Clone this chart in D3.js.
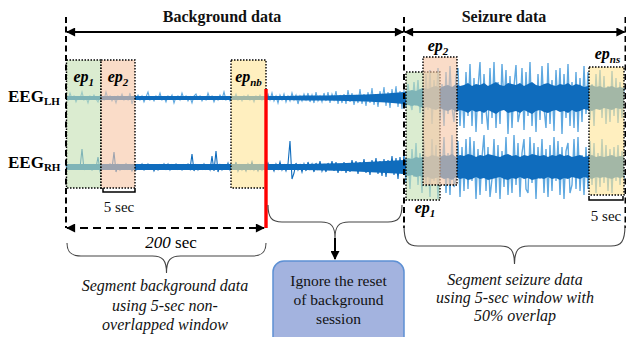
<!DOCTYPE html>
<html>
<head>
<meta charset="utf-8">
<script src="https://cdn.jsdelivr.net/npm/d3@7"></script>
<style>
  body { margin: 0; background: #fff; }
  svg { display: block; }
</style>
</head>
<body>
<div id="chart"></div>
<script>
// EEG samples (arbitrary µV units), one sample every 2 s of diagram time.
// Background starts at t=0, seizure at t=338 (the drawing is not to scale)
var lhBackground = [
  1,-2,5,-1,2,-4,1,-1,6,-2,  1,-5,2,-1,3,-1,-4,2,1,-2,  6,-1,2,-3,1,-5,2,-1,4,-2,
  1,-2,5,-6,1,-1,3,-2,2,-4,  1,6,-2,1,-3,2,-1,5,-2,1,  -4,2,-1,3,-5,1,2,-2,5,-1,
  2,-3,1,-5,2,4,-1,2,-3,1,  -2,5,-1,2,-4,1,-2,3,-1,6,  -2,1,-3,2,-1,4,-2,1,-3,2,
  -1,3,-2,1,-4,2,-1,3,-2,1,  -3,4,-2,5,-3,2,-5,3,-2,4,  -4,2,-3,5,-2,3,-6,2,-3,4,
  -2,5,-4,3,-5,6,-3,2,-4,5,  -3,6,-5,4,-2,7,-6,3,-5,4,  -6,8,-4,5,-7,3,-5,9,-6,4,
  -8,6,-5,10,-7,4,-9,7,-3,11,  -8,6,-10,9,-5,12,-9,7,-11,8];
var lhSeizure = [
  6,-10,14,-4,-12,16,-8,18,-15,10,
  -20,24,-12,28,-26,18,-8,30,-22,14,-28,26,-16,32,-10,-24,22,30,-28,12,-30,26,
  -18,34,-28,20,-34,10,36,-26,24,-12,-32,30,-20,36,-30,16,-26,34,-8,28,-36,22,-30,12,33,-24,-14,30,-32,26,
  -18,36,-28,14,-34,24,-22,32,-10,-30,35,-26,18,-33,28,-12,30,-36,24,-20,34,-28,16,-30,26,-34,20,-24,32,-16,
  26,-22,14,-28,24,-10,28,-20,22,-26,12,-24,27,-18,20,-25,16,-20,10];
var rhBackground = [
  1,-2,2,-1,1,-2,2,-1,18,-3,  2,-2,1,-3,2,-1,10,-4,1,-2,  2,-1,3,-2,15,-5,2,-3,1,-2,
  3,-2,2,-4,1,-3,2,-2,3,-3,  -2,3,-1,2,-4,1,-3,2,-2,3,  -2,3,-3,2,-1,3,-2,1,-3,2,
  -1,3,-2,13,-4,2,-3,1,-2,3,  -2,1,-3,11,-4,16,-5,2,-3,1,  -2,4,-3,1,-2,5,-4,2,-3,1,
  -4,3,-2,5,-3,1,-4,2,-3,2,  -3,4,-2,1,-4,3,-2,5,-3,2,  -4,3,26,-12,-6,4,-3,2,-5,3,
  -4,5,-2,3,-5,4,-3,6,-4,2,  -5,4,-3,6,-4,5,-6,3,-4,5,  -6,4,-5,7,-3,6,-7,5,-4,8,
  -6,5,-8,7,-4,9,-7,6,-9,8,  -10,7,-6,11,-8,9,-12,10,-7,12];
var rhSeizure = [
  12,-16,8,-22,18,-10,24,-18,14,-26,
  26,-20,10,-30,28,-14,22,-32,18,-8,30,-26,14,-28,32,-20,-12,26,-30,20,-24,28,
  -22,30,-14,26,-32,18,-28,10,32,-24,20,-30,-12,28,-26,22,-32,16,-20,30,-28,12,-26,32,-18,24,-30,14,28,-22,
  -26,30,-16,24,-32,20,-12,28,-26,18,-30,22,-24,30,-14,26,-28,20,-32,16,24,-26,-18,28,-22,30,-24,12,-28,20,
  -22,26,-18,24,-26,14,-20,28,-16,22,-24,18,-26,20,-14,22,-18,16,-12];
// half-width of the dense core of each trace: background every 20 s, seizure every 4 s
var lhCoreBackground = [2,2,2,2,2,2,2,2,2,2,2,2,2.5,2.5,3,3.5,4.5];
var lhCoreSeizure = [6,7,8,7,9,10,9,11,12,10, 12,13,11,14,12,13,15,12,14,13, 15,12,14,16,13,12,15,14,13,15,
  12,14,16,13,12,14,15,13,12,14, 13,15,12,14,13,11,12,13,11,12, 10,11,12,10,11,10];
var rhCoreBackground = [3,3,3,3,3,3,3,3,3,3,3,3,3,3.5,4,5,6];
var rhCoreSeizure = [7,9,8,10,9,11,10,12,11,10, 12,11,13,10,12,11,13,12,10,12, 11,13,12,11,10,12,13,11,12,10,
  12,11,13,12,11,12,10,12,11,13, 11,12,10,11,12,10,11,12,10,11, 10,11,12,10,11,10];

var bgEpochs = [
  { name: '1',  start: 0.5, end: 35 },
  { name: '2',  start: 35,  end: 69 },
  { name: 'nb', start: 165, end: 200 }
];
var szEpochs = [
  { name: '1',  start: 340, end: 374 },
  { name: '2',  start: 357, end: 391 },
  { name: 'ns', start: 523, end: 558 }
];
var bgEnd = 200, szStart = 338, szEnd = 559;

var W = 626, H = 337;
var serif = '"Liberation Serif", "Times New Roman", serif';
var darkBlue = '#0f6cbd', lightBlue = '#5ea8e0';
var epColor = { '1': '#c5e0b3', '2': '#f7c6a6', 'nb': '#ffe597', 'ns': '#ffe597' };
var szBoxY = { '1': [72, 200], '2': [57, 185], 'ns': [67, 195] };

var svg = d3.select('#chart').append('svg')
  .attr('width', W).attr('height', H)
  .attr('viewBox', '0 0 ' + W + ' ' + H);

svg.append('defs').append('marker')
  .attr('id', 'arr')
  .attr('viewBox', '0 0 10 10')
  .attr('refX', 9).attr('refY', 5)
  .attr('markerUnits', 'userSpaceOnUse')
  .attr('markerWidth', 11).attr('markerHeight', 9)
  .attr('orient', 'auto-start-reverse')
  .append('path').attr('d', 'M0,0 L10,5 L0,10 z').attr('fill', '#000');

var x = d3.scaleLinear().domain([0, 560]).range([66, 626]);
var yLH = d3.scaleLinear().domain([-40, 40]).range([138, 58]);
var yRH = d3.scaleLinear().domain([-40, 40]).range([207, 127]);

function toPoints(arr, t0, step) {
  return arr.map(function (v, i) { return { t: t0 + i * step, v: v }; });
}

function drawTrace(y, bg, sz, coreBg, coreSz, bgColor) {
  var g = svg.append('g');
  var line = d3.line()
    .x(function (d) { return x(d.t); })
    .y(function (d) { return y(d.v); });
  var area = d3.area()
    .x(function (d) { return x(d.t); })
    .y0(function (d) { return y(-d.v); })
    .y1(function (d) { return y(d.v); });

  var core = toPoints(coreBg, 0, 20).concat(toPoints(coreSz, szStart, 4));
  g.append('path')
    .datum(toPoints(sz, szStart, 2))
    .attr('d', line)
    .attr('fill', 'none')
    .attr('stroke', lightBlue)
    .attr('stroke-width', 1.4);
  g.append('path')
    .datum(toPoints(bg, 0, 2).concat([{ t: szStart, v: sz[0] }]))
    .attr('d', line)
    .attr('fill', 'none')
    .attr('stroke', bgColor)
    .attr('stroke-width', 1.1);
  g.append('path')
    .datum(core)
    .attr('d', area)
    .attr('fill', darkBlue);
}

drawTrace(yLH, lhBackground, lhSeizure, lhCoreBackground, lhCoreSeizure, lightBlue);
drawTrace(yRH, rhBackground, rhSeizure, rhCoreBackground, rhCoreSeizure, darkBlue);

// epoch windows
function drawBox(ep, y0, y1) {
  svg.append('rect')
    .attr('x', x(ep.start)).attr('y', y0)
    .attr('width', x(ep.end) - x(ep.start)).attr('height', y1 - y0)
    .attr('fill', epColor[ep.name]).attr('fill-opacity', 0.62)
    .attr('stroke', '#000').attr('stroke-width', 1.4)
    .attr('stroke-dasharray', '1.5,1.5');
}
bgEpochs.forEach(function (ep) { drawBox(ep, 60, 188); });
szEpochs.forEach(function (ep) { drawBox(ep, szBoxY[ep.name][0], szBoxY[ep.name][1]); });

function epLabel(ep, cx, baseY) {
  var t = svg.append('text')
    .attr('x', cx).attr('y', baseY)
    .attr('text-anchor', 'middle')
    .attr('font-family', serif)
    .attr('font-weight', 'bold').attr('font-style', 'italic')
    .attr('font-size', 16);
  t.append('tspan').text('ep');
  t.append('tspan').attr('font-size', 11).attr('dy', 4).text(ep.name);
}
bgEpochs.forEach(function (ep) { epLabel(ep, (x(ep.start) + x(ep.end)) / 2, 82); });
epLabel(szEpochs[0], (x(szEpochs[0].start) + x(szEpochs[0].end)) / 2 + 2, 213);
epLabel(szEpochs[1], (x(szEpochs[1].start) + x(szEpochs[1].end)) / 2 - 2, 51);
epLabel(szEpochs[2], (x(szEpochs[2].start) + x(szEpochs[2].end)) / 2 + 1, 59);

// end of the background part that is used
svg.append('rect')
  .attr('x', x(bgEnd) - 1.7).attr('y', 89)
  .attr('width', 3.4).attr('height', 139)
  .attr('fill', '#ff0000');

// section borders
[0, szStart, szEnd + 0.5].forEach(function (t) {
  svg.append('line')
    .attr('x1', x(t)).attr('x2', x(t))
    .attr('y1', 17).attr('y2', 228)
    .attr('stroke', '#000').attr('stroke-width', 2)
    .attr('stroke-dasharray', '6,3.5');
});

function arrow(x1, x2, y, dashed) {
  svg.append('line')
    .attr('x1', x1).attr('x2', x2).attr('y1', y).attr('y2', y)
    .attr('stroke', '#000').attr('stroke-width', 2)
    .attr('stroke-dasharray', dashed ? '8,5' : null)
    .attr('marker-start', 'url(#arr)').attr('marker-end', 'url(#arr)');
}
arrow(x(0) + 1, x(szStart) - 1, 32, false);
arrow(x(szStart) + 1, x(szEnd) - 0.5, 32, false);
arrow(x(0) + 1, x(bgEnd) - 2, 228, true);

function text(str, cx, y, opts) {
  opts = opts || {};
  return svg.append('text')
    .attr('x', cx).attr('y', y)
    .attr('text-anchor', 'middle')
    .attr('font-family', serif)
    .attr('font-size', opts.size || 16)
    .attr('font-weight', opts.bold ? 'bold' : null)
    .attr('font-style', opts.italic ? 'italic' : null)
    .attr('fill', '#111')
    .text(str);
}
text('Background data', 222, 22, { bold: true });
text('Seizure data', 504, 22, { bold: true });

function eegLabel(sub, y) {
  var t = svg.append('text')
    .attr('x', 8).attr('y', y)
    .attr('font-family', serif).attr('font-weight', 'bold')
    .attr('font-size', 17);
  t.append('tspan').text('EEG');
  t.append('tspan').attr('font-size', 11).attr('dy', 3).text(sub);
}
eegLabel('LH', 102);
eegLabel('RH', 168);

// 5 sec brackets
function bracket(x1, x2, y, ty) {
  svg.append('path')
    .attr('d', 'M' + x1 + ',' + (y - 4) + 'V' + y + 'H' + x2 + 'V' + (y - 4))
    .attr('fill', 'none').attr('stroke', '#000').attr('stroke-width', 1.5);
  text('5 sec', (x1 + x2) / 2, ty, { size: 15 });
}
bracket(x(37), x(69), 192, 212);
bracket(x(523), x(557), 200, 221);

// 200 sec
var t200 = svg.append('text')
  .attr('x', 171).attr('y', 248)
  .attr('text-anchor', 'middle')
  .attr('font-family', serif).attr('font-size', 17);
t200.append('tspan').attr('font-style', 'italic').text('200');
t200.append('tspan').text(' sec');

// curly braces
function brace(x1, x2, y0, yh, tip) {
  var xm = (x1 + x2) / 2, r = 14;
  var d = 'M' + x1 + ',' + y0 +
    'C' + x1 + ',' + (yh - 4) + ' ' + (x1 + 4) + ',' + yh + ' ' + (x1 + r) + ',' + yh +
    'H' + (xm - r) +
    'C' + (xm - 4) + ',' + yh + ' ' + xm + ',' + (yh + 4) + ' ' + xm + ',' + tip +
    'C' + xm + ',' + (yh + 4) + ' ' + (xm + 4) + ',' + yh + ' ' + (xm + r) + ',' + yh +
    'H' + (x2 - r) +
    'C' + (x2 - 4) + ',' + yh + ' ' + x2 + ',' + (yh - 4) + ' ' + x2 + ',' + y0;
  svg.append('path').attr('d', d)
    .attr('fill', 'none').attr('stroke', '#444').attr('stroke-width', 1.1);
  return xm;
}
brace(x(0) + 1, x(bgEnd), 243, 256, 273);
var midX = brace(x(bgEnd) + 2, x(szStart) - 2, 205, 222, 238);
brace(x(szStart), x(szEnd), 225, 246, 264);

svg.append('line')
  .attr('x1', midX).attr('x2', midX).attr('y1', 238).attr('y2', 259)
  .attr('stroke', '#000').attr('stroke-width', 2)
  .attr('marker-end', 'url(#arr)');

svg.append('rect')
  .attr('x', 273).attr('y', 261).attr('width', 131).attr('height', 90)
  .attr('rx', 11)
  .attr('fill', '#a3b3df').attr('stroke', '#5d90d4').attr('stroke-width', 1.5);
text('Ignore the reset', 338.5, 286, { size: 15.5 });
text('of background', 338.5, 305, { size: 15.5 });
text('session', 338.5, 324, { size: 15.5 });

text('Segment background data', 165, 291, { size: 16, italic: true });
text('using 5-sec non-', 165, 311, { size: 16, italic: true });
text('overlapped window', 165, 330, { size: 16, italic: true });

text('Segment seizure data', 515, 285, { size: 16, italic: true });
text('using 5-sec window with', 515, 303, { size: 16, italic: true });
text('50% overlap', 515, 321, { size: 16, italic: true });
</script>
</body>
</html>
